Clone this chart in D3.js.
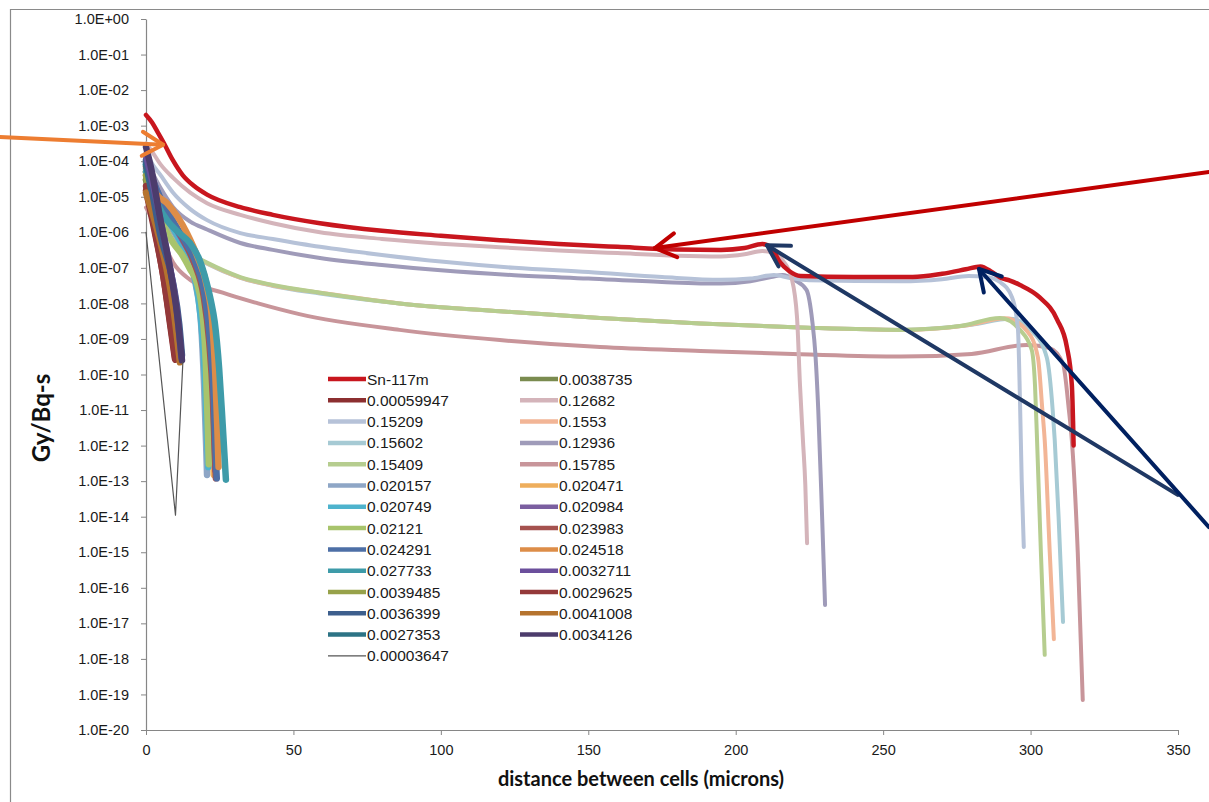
<!DOCTYPE html>
<html>
<head>
<meta charset="utf-8">
<script src="https://cdn.jsdelivr.net/npm/d3@7"></script>
<style>
body { margin: 0; background: #fff; }
svg { display: block; }
.tick text { font-family: "Liberation Sans", Arial, sans-serif; font-size: 14.5px; fill: #1a1a1a; }
.legend-text { font-family: "Liberation Sans", Arial, sans-serif; font-size: 15.5px; fill: #1a1a1a; }
.axis-title { font-family: Lato, "Open Sans", sans-serif; font-weight: 700; fill: #111; }
</style>
</head>
<body>
<script>
// axis ticks
const xTickValues = [0, 50, 100, 150, 200, 250, 300, 350];
const yTickValues = [1, 1e-1, 1e-2, 1e-3, 1e-4, 1e-5, 1e-6, 1e-7, 1e-8, 1e-9, 1e-10,
    1e-11, 1e-12, 1e-13, 1e-14, 1e-15, 1e-16, 1e-17, 1e-18, 1e-19, 1e-20];
const yTickLabels = ["1.0E+00", "1.0E-01", "1.0E-02", "1.0E-03", "1.0E-04", "1.0E-05", "1.0E-06",
    "1.0E-07", "1.0E-08", "1.0E-09", "1.0E-10", "1.0E-11", "1.0E-12", "1.0E-13", "1.0E-14",
    "1.0E-15", "1.0E-16", "1.0E-17", "1.0E-18", "1.0E-19", "1.0E-20"];

// series, [distance in microns, Gy/Bq-s]
const sn117m = [[0,2.0e-3],[2,1.25e-3],[4,6.5e-4],[6,3.3e-4],[9,1.1e-4],[12.5,4e-5],[16,2.1e-5],[20.7,1.15e-5],
    [32,5.1e-6],[43,3.1e-6],[59,1.8e-6],[80,1.1e-6],[100,8.0e-7],[120,6.0e-7],[140,4.7e-7],[160,3.9e-7],
    [180,3.3e-7],[195,3.2e-7],[203,3.6e-7],[209,4.7e-7],[212,3.7e-7],[215,1.45e-7],[218,8.3e-8],[222,5.9e-8],
    [240,5.5e-8],[260,5.5e-8],[270,6.8e-8],[278,9.1e-8],[283,1.1e-7],[287,7.5e-8],[290,5.2e-8],[293,4.4e-8],
    [296.4,3.3e-8],[303,1.5e-8],[309,3.5e-9],[312.3,6e-10],[314,5e-11],[314.4,5e-12],[314.6,1e-12]];
const d0038735 = [[0,3e-5],[3,2e-6],[6,1e-7],[8.7,5e-9],[10.6,3.5e-10]];
const d00059947 = [[0,1.5e-5],[3,1e-6],[6,5e-8],[8.2,2.5e-9],[9.8,2.8e-10]];
const d12682 = [[0,3.2e-4],[2,1.9e-4],[5,8e-5],[9.2,3.4e-5],[15,1.3e-5],[20.7,6.6e-6],[32,3.1e-6],[43,1.8e-6],
    [59,1.0e-6],[80,6.5e-7],[100,4.8e-7],[120,3.8e-7],[140,3.1e-7],[160,2.6e-7],[180,2.2e-7],[195,2.1e-7],
    [203,2.4e-7],[209,3.0e-7],[213,2.6e-7],[216,1.6e-7],[219,5e-8],[220.8,4e-9],[221.8,5e-11],[222.8,1.4e-12],
    [223.6,8e-14],[224.2,1.8e-15]];
const d15209 = [[0,2.2e-4],[1.4,1.1e-4],[5,4e-5],[9.2,1.3e-5],[15,4.5e-6],[20.7,2.2e-6],[32,9.5e-7],[43,6.5e-7],
    [59,3.9e-7],[80,2.3e-7],[100,1.5e-7],[125,1.0e-7],[150,7.6e-8],[175,5.5e-8],[195,4.6e-8],[205,5e-8],
    [213,6.3e-8],[218,5.3e-8],[225,4.5e-8],[256,4.2e-8],[270,4.8e-8],[279,5.9e-8],[285,5.5e-8],[289.6,4e-8],
    [293.7,1.5e-8],[295.7,2e-9],[296.4,2e-11],[297,1e-13],[297.7,1.4e-15]];
const d1553 = [[0,1.8e-5],[4.7,2.3e-6],[9.2,5.8e-7],[15,2.4e-7],[20.7,1.35e-7],[32,5.3e-8],[43,3.2e-8],[59,2e-8],
    [86,1e-8],[120,6e-9],[154,3.9e-9],[188,2.7e-9],[222,2.1e-9],[256,1.8e-9],[278,2.4e-9],[291.5,3.8e-9],
    [299,1.6e-9],[302.5,3e-10],[304,1e-11],[304.8,1.4e-12],[306.5,1e-15],[307.9,3.6e-18]];
const d15602 = [[0,1.7e-5],[4.7,2.2e-6],[9.2,5.7e-7],[15,2.4e-7],[20.7,1.3e-7],[32,5.2e-8],[43,3.1e-8],[59,1.9e-8],
    [86,1e-8],[120,6e-9],[154,3.9e-9],[188,2.7e-9],[222,2.1e-9],[256,1.8e-9],[280,2.5e-9],[293,3.7e-9],
    [301,1.5e-9],[305.5,3e-10],[307.5,1e-11],[308.2,1.4e-12],[309.5,1e-14],[311,1.1e-17]];
const d12936 = [[0,1.1e-4],[4.7,1.9e-5],[9.2,5.1e-6],[15,2e-6],[20.7,1.2e-6],[32,5e-7],[43,3.2e-7],[59,1.9e-7],
    [80,1.2e-7],[100,8.5e-8],[125,6.2e-8],[150,5e-8],[175,4e-8],[195,3.6e-8],[205,4.2e-8],[212,5.5e-8],
    [216,6.3e-8],[220,4.5e-8],[224,2.4e-8],[226,3e-9],[227,4e-10],[228,1e-11],[229.3,1e-14],[230.3,3.3e-17]];
const d15409 = [[0,2e-5],[4.7,2.5e-6],[9.2,6e-7],[15,2.5e-7],[20.7,1.4e-7],[32,5.5e-8],[43,3.3e-8],[59,2e-8],
    [86,1e-8],[120,6e-9],[154,3.9e-9],[188,2.7e-9],[222,2.1e-9],[256,1.8e-9],[276,2.3e-9],[289.6,3.9e-9],
    [296.4,1.8e-9],[300.4,4.9e-10],[301.5,5e-11],[302.2,1.4e-12],[303.5,1e-15],[304.8,1.3e-18]];
const d15785 = [[0,5e-6],[4.7,9e-7],[9.2,1.4e-7],[15,4.6e-8],[26,2e-8],[38,1e-8],[52,5e-9],[86,1.8e-9],
    [120,9.3e-10],[154,5.9e-10],[188,4.6e-10],[222,3.7e-10],[256,3.2e-10],[280,3.8e-10],[298.7,6.8e-10],
    [306.5,5.5e-10],[311,2e-10],[313,1e-11],[314,1.4e-12],[316,1e-15],[317.7,7e-20]];
const d020157 = [[0,6e-5],[4,7e-6],[8,1.6e-6],[12,4.5e-7],[15,1.3e-7],[17,3e-8],[18.7,2.5e-9],[19.7,5e-11],
    [20.4,1e-12],[20.7,1.5e-13]];
const d020471 = [[0,4e-5],[4.5,6e-6],[9,1.3e-6],[13,4e-7],[16.5,1e-7],[19,1.5e-8],[20.7,9e-10],[21.9,2e-11],
    [22.6,7e-13],[23,1.5e-13]];
const d020749 = [[0,8e-5],[4,9e-6],[8,1.9e-6],[12,5e-7],[15.5,1.1e-7],[17.7,1.6e-8],[19.2,1e-9],[20.2,3e-11],
    [20.8,1e-12],[21.1,2.5e-13]];
const d020984 = [[0,1e-4],[4,1.3e-5],[8,2.6e-6],[12,7e-7],[16,1.6e-7],[19,2.2e-8],[21,1.2e-9],[22.4,3e-11],
    [23.1,1e-12],[23.5,2e-13]];
const d02121 = [[0,3e-5],[4,3.5e-6],[9.2,5e-7],[12,2.5e-7],[15,9e-8],[17.3,3.7e-8],[19.3,4e-9],[20.3,2e-10],
    [20.9,5e-12],[21.3,3e-13]];
const d023983 = [[0,7e-5],[4.5,1e-5],[9,2e-6],[13,5.5e-7],[16.5,1.3e-7],[19.5,1.7e-8],[21.4,9e-10],[22.7,2e-11],
    [23.3,8e-13],[23.7,1.2e-13]];
const d024291 = [[0,9e-5],[4.5,1.1e-5],[9,2.2e-6],[13,6e-7],[17,1.3e-7],[20,1.5e-8],[21.8,8e-10],[23,2e-11],
    [23.6,7e-13],[24,1.2e-13]];
const d024518 = [[0,5e-5],[3.5,1.2e-5],[7.1,6.6e-6],[13.9,9.5e-7],[17.5,2e-7],[20.7,2.9e-8],[22.4,3.4e-9],
    [23.5,1e-10],[24.2,3e-12],[24.6,2.5e-13]];
const d027733 = [[0,5e-5],[4,6e-6],[7.1,2.2e-6],[11,1e-6],[14.9,5e-7],[18,1.8e-7],[20.5,4e-8],[22,1.2e-8],
    [23.3,3e-9],[24.8,1.5e-10],[26,4e-12],[27.1,1.1e-13]];
const d0032711 = [[0,1.5e-4],[2.5,2e-5],[5,2e-6],[8,1.2e-7],[10.5,6e-9],[12,3e-10]];
const d0039485 = [[0,4e-5],[3,2.5e-6],[6.2,1e-7],[9,4e-9],[11,3e-10]];
const d0029625 = [[0,2e-5],[3,1.2e-6],[6,5e-8],[8.5,2e-9],[10,2.6e-10]];
const d0036399 = [[0,1.1e-4],[2.5,9e-6],[4.7,9.5e-7],[9.2,3.7e-8],[11.3,2.5e-9],[12.2,3.5e-10]];
const d0041008 = [[0,1.3e-5],[4.7,6e-7],[7,9e-8],[9.2,8e-9],[11.5,2.2e-10]];
const d0027353 = [[0,8e-5],[3,5e-6],[6.5,2e-7],[9.5,7e-9],[11.5,3e-10]];
const d0034126 = [[0,2.5e-4],[2,5e-5],[4.7,2.7e-6],[8.1,1e-7],[10.5,5.4e-9],[12.2,2.5e-10]];
const d00003647 = [[0,1e-6],[10,1.1e-14],[12.5,2.2e-10]];

// legend order (as in the chart)
const seriesNames = ["Sn-117m", "0.0038735", "0.00059947", "0.12682", "0.15209", "0.1553", "0.15602", "0.12936",
    "0.15409", "0.15785", "0.020157", "0.020471", "0.020749", "0.020984", "0.02121", "0.023983", "0.024291",
    "0.024518", "0.027733", "0.0032711", "0.0039485", "0.0029625", "0.0036399", "0.0041008", "0.0027353",
    "0.0034126", "0.00003647"];
const seriesValues = [sn117m, d0038735, d00059947, d12682, d15209, d1553, d15602, d12936, d15409, d15785,
    d020157, d020471, d020749, d020984, d02121, d023983, d024291, d024518, d027733, d0032711, d0039485,
    d0029625, d0036399, d0041008, d0027353, d0034126, d00003647];
const seriesColors = ["#c8161e", "#7a8b4f", "#8c2f30", "#d4b4ba", "#b6c2d8", "#f2b596", "#a6cad4", "#9f9bb9",
    "#b6cd8f", "#c8959a", "#8ea6c6", "#eeae5c", "#4eb3cd", "#7b5fa0", "#a8c46c", "#a5524f", "#4d6fa6",
    "#dd8d48", "#3e9ba9", "#6b4f9c", "#97a24a", "#94393a", "#3d5f8d", "#b5732e", "#2c7385", "#4c3c6c",
    "#555555"];

const W = 1209, H = 802;
const plot = { left: 146, right: 1178, top: 19, bottom: 730 };

const svg = d3.select("body").append("svg")
    .attr("width", W)
    .attr("height", H);

svg.append("rect").attr("width", W).attr("height", H).attr("fill", "#fff");

// chart frame (cut at the top and right)
svg.append("path")
    .attr("d", "M10.5," + H + " V9.5 H" + W)
    .attr("fill", "none")
    .attr("stroke", "#8a8a8a")
    .attr("stroke-width", 1.2);

const x = d3.scaleLinear().domain([0, 350]).range([plot.left, plot.right]);
const y = d3.scaleLog().domain([1e-20, 1]).range([plot.bottom, plot.top]);

const xAxis = svg.append("g")
    .attr("transform", "translate(0," + plot.bottom + ")")
    .call(d3.axisBottom(x).tickValues(xTickValues).tickFormat(d3.format("d"))
        .tickSize(5).tickSizeOuter(0).tickPadding(10));

const yAxis = svg.append("g")
    .attr("transform", "translate(" + plot.left + ",0)")
    .call(d3.axisLeft(y).tickValues(yTickValues).tickFormat((d, i) => yTickLabels[i])
        .tickSize(5).tickSizeOuter(0).tickPadding(12));

[xAxis, yAxis].forEach(a => {
    a.select(".domain").attr("stroke", "#868686").attr("stroke-width", 1.2);
    a.selectAll(".tick line").attr("stroke", "#868686");
    a.selectAll(".tick text").attr("font-size", null).attr("font-family", null);
});

svg.append("text")
    .attr("class", "axis-title")
    .attr("x", 641)
    .attr("y", 786)
    .attr("text-anchor", "middle")
    .attr("font-size", 20)
    .text("distance between cells (microns)");

svg.append("text")
    .attr("class", "axis-title")
    .attr("transform", "translate(50,418) rotate(-90)")
    .attr("text-anchor", "middle")
    .attr("font-size", 24)
    .text("Gy/Bq-s");

// lines
const smoothLine = d3.line()
    .x(d => x(d[0]))
    .y(d => y(d[1]))
    .curve(d3.curveMonotoneX);
const straightLine = d3.line()
    .x(d => x(d[0]))
    .y(d => y(d[1]));

function strokeWidth(i) {
    if (i === 0) return 4.5;
    if (i === 26) return 1.2;
    if (i >= 3 && i <= 9) return 4;
    return 6.5;
}

// draw back to front: upper curves, then left cluster, thin line, Sn-117m on top
const drawOrder = [9, 6, 5, 8, 7, 4, 3, 10, 11, 12, 13, 14, 15, 16, 17, 18,
    1, 2, 20, 21, 24, 23, 22, 19, 25, 26, 0];

svg.append("g")
    .selectAll("path")
    .data(drawOrder)
    .enter()
    .append("path")
    .attr("d", i => (i === 26 ? straightLine : smoothLine)(seriesValues[i]))
    .attr("fill", "none")
    .attr("stroke", i => seriesColors[i])
    .attr("stroke-width", i => strokeWidth(i))
    .attr("stroke-linejoin", "round")
    .attr("stroke-linecap", "round");

// legend
const legendTop = 379, legendRow = 21.3;
const legendCols = [328, 520];
const legendLine = 38;

let legend = svg.append("g")
    .selectAll("g")
    .data(seriesNames)
    .enter()
    .append("g")
    .attr("transform", (d, i) => "translate(" + legendCols[i % 2] + "," + (legendTop + Math.floor(i / 2) * legendRow) + ")");

legend.append("line")
    .attr("x1", 0).attr("x2", legendLine)
    .attr("stroke", (d, i) => seriesColors[i])
    .attr("stroke-width", (d, i) => (i === 26 ? 1.2 : 4.5));

legend.append("text")
    .attr("class", "legend-text")
    .attr("x", legendLine + 1)
    .attr("dy", "0.36em")
    .text(d => d);

// annotation arrows, ends given in data units (tails may sit outside the axes)
function arrow(tail, tip, color) {
    const x0 = x(tail[0]), y0 = y(tail[1]), x1 = x(tip[0]), y1 = y(tip[1]);
    const ang = Math.atan2(y0 - y1, x0 - x1);
    const len = 24, spread = Math.PI / 6;
    const g = svg.append("g")
        .attr("fill", "none")
        .attr("stroke", color)
        .attr("stroke-width", 4)
        .attr("stroke-linecap", "round")
        .attr("stroke-linejoin", "round");
    g.append("line").attr("x1", x0).attr("y1", y0).attr("x2", x1).attr("y2", y1);
    g.append("path").attr("d", "M" + (x1 + len * Math.cos(ang + spread)) + "," + (y1 + len * Math.sin(ang + spread))
        + " L" + x1 + "," + y1
        + " L" + (x1 + len * Math.cos(ang - spread)) + "," + (y1 + len * Math.sin(ang - spread)));
}

arrow([-49.5, 4.8e-4], [5.8, 2.9e-4], "#ed7d31");
arrow([360.5, 5e-5], [172.6, 3.6e-7], "#c00000");
arrow([349.9, 4.1e-14], [210.6, 4.3e-7], "#1f3864");
arrow([360.5, 5.1e-15], [282.5, 9.3e-8], "#002060");
</script>
</body>
</html>
